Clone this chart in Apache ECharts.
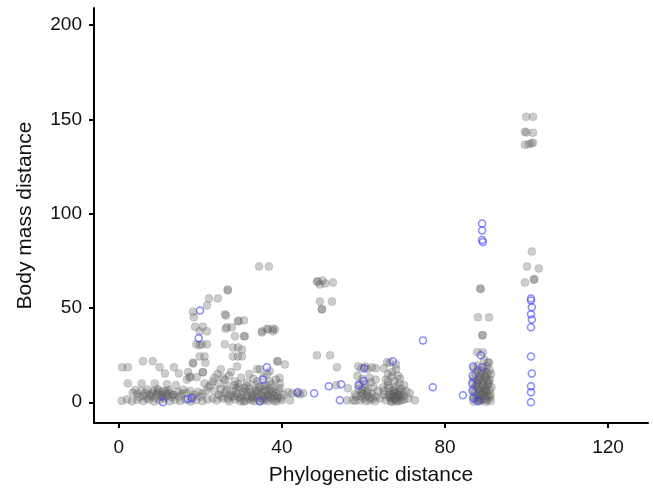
<!DOCTYPE html>
<html lang="en">
<head>
    <meta charset="UTF-8">
    <title>Body mass vs phylogenetic distance</title>
    <script src="https://cdn.jsdelivr.net/npm/echarts@6/dist/echarts.min.js"></script>
    <style>
        html, body {
            margin: 0;
            padding: 0;
            background: #fff;
        }

        #chart {
            width: 653px;
            height: 491px;
        }
    </style>
</head>
<body>
<div id="chart"></div>
<script>
    // tick labels
    var xTicks = [0, 40, 80, 120];
    var yTicks = [0, 50, 100, 150, 200];

    // grey points, [phylogenetic distance, body mass distance]
    var greyNear = [
        [0.8, 18.5], [2.2, 18.5], [5.9, 21.7], [8.3, 21.7], [10, 18.5], [11.3, 15.3], [13.5, 18.5], [14.7, 15.3],
        [17, 16], [18.2, 20.6], [16.7, 12], [17.5, 13.5], [2.2, 10], [5.6, 10], [8.8, 10], [11.8, 9.5], [14, 9],
        [9.5, 7], [3.4, 5], [4.5, 4.5], [5.5, 6], [6.5, 5], [7.5, 4], [8.5, 6], [9.5, 5], [10.5, 4], [11.5, 6],
        [12.5, 5], [13.5, 4], [14.5, 5.5], [15.5, 4.5], [16.5, 5], [17.5, 6], [18.5, 4], [19.5, 5.5], [20.5, 4.5],
        [21.5, 6], [0.7, 0.8], [2, 1.5], [3.2, 0.5], [4.5, 1.2], [6, 0.6], [7.3, 1.5], [8.6, 0.4], [10, 1],
        [11.2, 1.8], [12.5, 0.5], [13.8, 1.3], [15, 0.7], [16.3, 1.5], [17.6, 0.4], [19, 1.2], [20.5, 0.6],
        [21.8, 1.5], [5, 2.8], [8, 3], [11, 2.5], [12, 3.5], [13, 2.8], [9, 2.2], [10.5, 3], [19.1, 13.2],
        [17.4, 13.2], [20.6, 15.9], [20.6, 15.9], [23, 11], [21, 10], [22, 8],
        [4, 6.5], [6, 3.5], [7, 6.8], [8.2, 4.8], [9.8, 6.2], [10.8, 5.5], [12.2, 6.5], [13.2, 3.8], [14.8, 3],
        [11.6, 4.6], [9.2, 3.8], [6.8, 2.2], [15.8, 6.6], [18, 2.6], [20, 3]
    ];
    var greyColumn20 = [
        [26.7, 59.3], [26.7, 59.8], [22.1, 55], [24.3, 55], [21.6, 51.3], [18.2, 48], [26, 46.6], [26.3, 46],
        [29.2, 42.9], [29.4, 43.2], [18.4, 45], [18.7, 40], [20.6, 40], [19.8, 37.6], [21.6, 37.6], [26.5, 39.7],
        [27.7, 39.7], [26.2, 39], [28.5, 35], [30.9, 35], [19, 30.7], [20.4, 30.7], [21.6, 30.7], [19.8, 30.2],
        [26, 30.7], [28, 29], [29.2, 29], [19.8, 24.3], [21, 24.3], [28, 24.3], [29.2, 24.3], [30.2, 24.3],
        [18.2, 21], [21.2, 21], [29, 19], [30.2, 28]
    ];
    var greyCluster35 = [
        [34.6, 17.5], [37, 16.4], [38.8, 21.7], [39, 21.7], [40.7, 20], [35.1, 37], [36.6, 38.6], [38.3, 38.6],
        [36.3, 39], [37.8, 39], [35.1, 37.6], [37.8, 37.6], [30.7, 43.4], [30.7, 35], [34.4, 72], [36.8, 72],
        [24, 1], [24.5, 4], [25, 7], [25.5, 2], [26, 5], [26.5, 9], [27, 0.5], [27.5, 3], [28, 6], [28.5, 1.5],
        [29, 4.5], [29.5, 8], [30, 2], [30.5, 5.5], [31, 0.8], [31.5, 3.5], [32, 7], [32.5, 1], [33, 4],
        [33.5, 6.5], [34, 2.5], [34.5, 0.5], [35, 5], [35.5, 8.5], [36, 1.5], [36.5, 4], [37, 6.5], [37.5, 2],
        [38, 0.8], [38.5, 5], [39, 3], [39.5, 7.5], [40, 1], [40.5, 4], [26, 12], [27, 14], [28.5, 11], [30, 13],
        [31.5, 10.5], [33, 12.5], [24.5, 10], [25.5, 13], [27.5, 16], [29.3, 9.5], [32, 15], [34, 11],
        [35.5, 13.5], [37, 11], [38.5, 12], [39.5, 10], [36, 9], [33.5, 9], [30.8, 7.5], [28.2, 3], [26.8, 2],
        [29.8, 0.5], [32.8, 2.2], [35.8, 3], [38.8, 1.8], [31.2, 5.8], [34.2, 6], [37.2, 4.5], [25.2, 3],
        [23.5, 6], [23, 2], [22.5, 9], [23.5, 13], [24.2, 15], [25, 17.5], [33.9, 17.5], [41.5, 5.3],
        [27.2, 4.2], [28.8, 7.2], [30.2, 3.8], [31.8, 1.8], [32.4, 5.2], [33.2, 0.6], [34.8, 3.6], [35.4, 1],
        [36.2, 6], [36.8, 2.8], [37.8, 7.8], [38.2, 3.4], [39.2, 5.8], [39.8, 2.2], [29.4, 2.6], [30.6, 0.4],
        [32.6, 3], [33.8, 4.8], [35.2, 2], [36.6, 0.6], [37.6, 5.6], [38.6, 0.4], [34.4, 8], [31.4, 8.6],
        [28.4, 9], [26.4, 6.6], [35.6, 6.8], [37.4, 9.4], [39.4, 13], [36.4, 15]
    ];
    var greyMid = [
        [42.5, 4.8], [43.7, 4.8], [45.2, 4.8], [44.4, 4.2], [48.6, 64], [48.8, 64], [50.6, 63], [52.5, 63.5],
        [49.3, 62.4], [50, 64.5], [49.3, 53.4], [52.3, 53.4], [49.8, 49.2], [49.8, 49.5], [48.6, 24.9],
        [51.8, 24.9], [53.5, 18.5], [53.3, 9], [56.2, 7.4], [57.9, 4.2], [56, 1], [57.4, 1], [42, 1]
    ];
    var grey60 = [
        [58.7, 19], [60.4, 19], [62.1, 18.5], [59.5, 18], [61, 17.5], [63, 18], [58.5, 14], [61.5, 13], [63, 12],
        [59, 10], [60.5, 9.5], [62.5, 8], [61, 6], [59.5, 5], [58.2, 3], [60, 2], [61.5, 1], [63, 3], [62, 4.5],
        [58.8, 7], [60.3, 7.5], [59.2, 1], [62.8, 0.5], [61, 3.5], [60, 4.2], [63.5, 6], [58, 0.8], [64, 2],
        [61.8, 10.5], [59.8, 12.5], [60.6, 0.6], [61.6, 2.4], [59.4, 3.2], [60.8, 5.2], [62.2, 2], [59.6, 6.6]
    ];
    var grey68 = [
        [65.8, 21.2], [66.5, 21], [65, 18], [68, 17.5], [66, 15], [68.5, 14], [65.5, 12], [67.5, 11], [69, 12.5],
        [66, 9], [68, 8.5], [70, 9], [65, 6], [66.5, 5], [67.5, 6.5], [68.5, 4], [69.5, 5.5], [66, 3], [67, 2],
        [68, 1], [69, 2.5], [70, 1.5], [65.5, 1], [67.2, 3.5], [68.2, 2.8], [67.8, 5], [66.8, 0.5], [68.8, 0.6],
        [69.8, 3.5], [70.5, 6], [71.4, 4.8], [72.6, 1], [71, 2], [64.8, 8], [66.2, 7.5], [69.2, 7.2], [67, 16],
        [68, 20], [65, 4], [67.6, 1.4], [66.6, 2.4], [67.4, 4.4], [68.4, 3.6], [69.4, 1.2], [67, 0.2],
        [68.6, 5.6], [66.4, 4], [69, 4], [67.8, 2], [68.2, 0.4], [67.2, 6], [66, 11], [68.8, 10], [67, 13.5]
    ];
    var grey89 = [
        [88.6, 60.3], [88.8, 60], [88.1, 45], [90.8, 45], [89.1, 35.4], [89.3, 35.6], [87.9, 26.5], [89.3, 26.5],
        [90.6, 21.2], [90.8, 21], [87, 18], [88, 17], [89.5, 18], [91, 17], [87.5, 15], [89, 15.5], [90.5, 14.5],
        [91.3, 15], [87, 13], [88.5, 12.5], [90, 13], [91, 12], [86.8, 11], [88, 10.5], [89.5, 10], [90.8, 10.5],
        [87.5, 8.5], [89, 8], [90.3, 8.5], [91.4, 8], [86.8, 7], [88.2, 6.5], [89.6, 6], [91, 6.5], [87.3, 5],
        [88.7, 4.5], [90.1, 4.8], [91.2, 4], [86.9, 3], [88.3, 2.5], [89.7, 3], [91, 2.5], [87.6, 1.5], [89, 1],
        [90.4, 1.2], [87, 0.4], [88.5, 0.5], [90, 0.3], [91.2, 0.6], [88, 3.8], [89.3, 5.5], [90.6, 3.5],
        [87.8, 9.5], [89.2, 11.5], [90.2, 16], [88.4, 14], [89.8, 7.2], [88.9, 2],
        [88.2, 8.2], [89.4, 9], [90.2, 6], [88.6, 5.8], [89.2, 4], [88.4, 1.2], [89.8, 1.8], [90.6, 9.6],
        [88.8, 13], [89.6, 14], [88.2, 11.8], [90.4, 11.4], [89, 16.8], [88, 19.5], [90.2, 19], [89.6, 22.5]
    ];
    var grey101 = [
        [99.9, 151.3], [101.6, 151.3], [99.6, 143.4], [100, 143], [101.6, 142.9], [99.6, 136.5], [100.5, 136.8],
        [101.2, 137.2], [101.6, 137.6], [101.3, 79.9], [100.1, 72], [103, 70.9], [99.6, 63.5], [101.8, 65],
        [101.9, 65.3]
    ];

    // blue open circles
    var bluePts = [
        [19.9, 48.7], [19.6, 33.9], [10.8, 0], [16.9, 1.6], [17.9, 2.1], [36.3, 18.5], [35.3, 12], [34.6, 0.5],
        [43.9, 5.3], [47.9, 4.8], [51.5, 8.5], [54.5, 9.5], [54.2, 1], [58.8, 9], [60, 11.3], [60.2, 18],
        [67.2, 21.7], [74.6, 32.8], [77, 7.9], [84.4, 3.7], [89.1, 94.7], [89.1, 91], [89.1, 86], [89.3, 85],
        [88.8, 24.9], [86.9, 19], [89.1, 18.5], [86.8, 14], [86.7, 10], [86.8, 6], [87, 2], [88, 0.5],
        [101.1, 55], [101.1, 54], [101.3, 50.3], [101.1, 46.6], [101.3, 43.9], [101.1, 39.7], [101.1, 24.3],
        [101.3, 15.3], [101.1, 8.5], [101.1, 5.3], [101.1, 0]
    ];

    var greyPts = [].concat(greyNear, greyColumn20, greyCluster35, greyMid, grey60, grey68, grey89, grey101);

    var font = 'Liberation Sans, Arial, Helvetica, sans-serif';
    var chart = echarts.init(document.getElementById('chart'));

    function axisStyle(ticks) {
        return {
            axisLine: {onZero: false, lineStyle: {color: '#000', width: 2}},
            axisTick: {show: true, inside: false, length: 5, customValues: ticks, lineStyle: {color: '#000', width: 2}},
            axisLabel: {customValues: ticks, fontSize: 19, color: '#111', fontFamily: font},
            splitLine: {show: false}
        };
    }

    var xAxis = axisStyle(xTicks);
    xAxis.type = 'value';
    xAxis.min = -6.1;
    xAxis.max = 129.8;
    xAxis.name = 'Phylogenetic distance';
    xAxis.nameLocation = 'middle';
    xAxis.nameGap = 42;
    xAxis.nameTextStyle = {fontSize: 21, color: '#111', fontFamily: font};
    xAxis.axisLabel.margin = 15;

    var yAxis = axisStyle(yTicks);
    yAxis.type = 'value';
    yAxis.min = -11;
    yAxis.max = 209;
    yAxis.name = 'Body mass distance';
    yAxis.nameLocation = 'middle';
    yAxis.nameGap = 58;
    yAxis.nameTextStyle = {fontSize: 21, color: '#111', fontFamily: font};
    yAxis.axisLabel.margin = 12;

    chart.setOption({
        animation: false,
        grid: {left: 94, right: 5, top: 8, bottom: 67},
        xAxis: xAxis,
        yAxis: yAxis,
        series: [
            {
                type: 'scatter',
                data: greyPts,
                symbolSize: 8,
                itemStyle: {
                    color: 'rgba(100,100,100,0.32)',
                    borderColor: 'rgba(50,50,50,0.18)',
                    borderWidth: 0.8,
                    opacity: 1
                }
            },
            {
                type: 'scatter',
                data: bluePts,
                symbolSize: 7,
                itemStyle: {
                    color: 'rgba(0,0,0,0)',
                    borderColor: 'rgba(60,60,255,0.6)',
                    borderWidth: 1.5,
                    opacity: 1
                }
            }
        ]
    });
</script>
</body>
</html>
